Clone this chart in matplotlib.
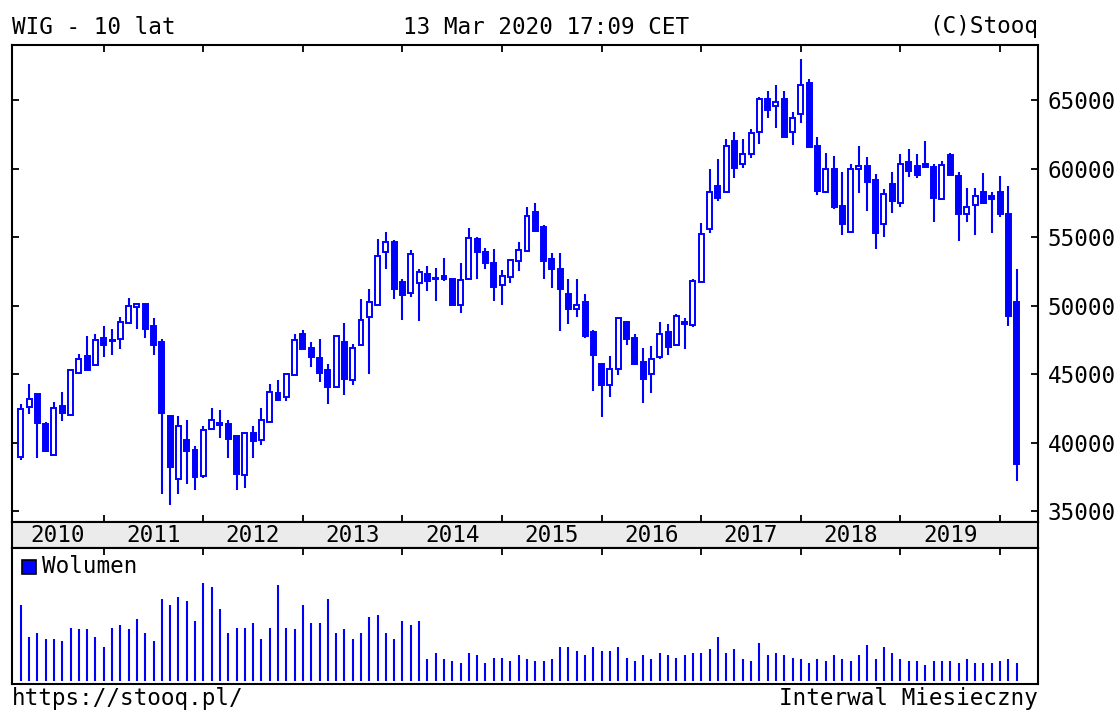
import matplotlib
matplotlib.use('Agg')
import matplotlib.pyplot as plt
import numpy as np
import pandas as pd
from matplotlib.patches import Rectangle

# ---------------- data ----------------
months = [p.strftime('%Y-%m') for p in pd.period_range('2010-03', '2020-03', freq='M')]

open_ = [38945, 42600, 43570, 41380, 39070, 42650, 41990, 45080, 46300, 45640,
         47660, 47400, 47590, 48730, 49900, 50100, 48520, 47350, 41920, 37360,
         40160, 39430, 37530, 41010, 41400, 41330, 40450, 37600, 40700, 40160,
         41500, 43620, 43330, 44910, 47900, 46910, 46200, 45320, 44060, 47350,
         44590, 47100, 49170, 50020, 53870, 54650, 51730, 50920, 51660, 52290,
         52000, 52140, 51900, 50020, 51920, 54820, 53920, 53070, 51480, 52090,
         53260, 53990, 56840, 55700, 53360, 52630, 50830, 49780, 50270, 48080,
         45710, 44230, 45350, 48800, 47660, 45840, 44980, 46250, 48030, 47150,
         48800, 48560, 51680, 55620, 58740, 58250, 62000, 60320, 61060, 62690,
         65050, 64580, 65050, 62690, 63980, 66260, 61660, 58300, 59930, 57280,
         55380, 59930, 60200, 59150, 55940, 58860, 57500, 60440, 60200, 60320,
         60130, 57790, 60950, 59470, 56700, 57330, 58250, 57990, 58250, 56650,
         50290]
high = [42790, 44300, 43570, 41500, 42960, 43700, 45280, 46490, 47780, 47950,
        48540, 48250, 49170, 50560, 50100, 50100, 49100, 47520, 41920, 41920,
        41620, 39720, 41180, 42520, 42350, 41620, 40450, 40700, 41180, 42520,
        44300, 44550, 44980, 47900, 48200, 47350, 47520, 45760, 47760, 48690,
        47220, 50440, 51170, 54820, 55380, 54770, 51970, 54040, 52700, 52870,
        52750, 53480, 51970, 53070, 55670, 54970, 54210, 54090, 52580, 53360,
        54650, 57160, 57460, 55870, 53800, 53800, 51900, 51900, 50830, 48200,
        45710, 46300, 49100, 48800, 47900, 46910, 47050, 48800, 48640, 49370,
        49100, 51900, 55990, 59930, 60660, 62130, 62690, 62130, 62860, 65190,
        65660, 66100, 65660, 64150, 67970, 66510, 62270, 61100, 60910, 59760,
        60320, 61660, 60810, 59590, 58470, 59760, 61050, 61390, 61050, 62030,
        60320, 60540, 61100, 59760, 58600, 58600, 59640, 58300, 59470, 58720,
        52630]
low = [38750, 42110, 38900, 39310, 39070, 41570, 41990, 45030, 45200, 45640,
       46250, 46370, 46790, 48730, 48250, 47660, 46370, 36270, 35410, 36270,
       37000, 36560, 37430, 40890, 40360, 38900, 36560, 36700, 38900, 39800,
       41500, 43040, 43040, 44910, 46860, 45520, 44420, 42840, 44060, 43450,
       44180, 47100, 45030, 50020, 52650, 50460, 48920, 50630, 48880, 51070,
       50340, 51800, 50020, 49420, 51920, 51920, 52650, 50340, 50020, 51660,
       52530, 53990, 55450, 51920, 51310, 48120, 48680, 49170, 47660, 43770,
       41870, 43330, 44910, 47100, 45640, 42890, 43620, 46130, 46370, 47150,
       46810, 48440, 51680, 55310, 57620, 58250, 59280, 60010, 60740, 61760,
       63660, 62980, 62320, 61710, 63340, 61590, 58050, 58230, 57010, 55140,
       55310, 58230, 56890, 54120, 55020, 56750, 57210, 59400, 59280, 60080,
       56080, 57690, 59520, 54730, 56080, 55140, 57400, 55310, 56430, 48540,
       37170]
close = [42475, 43200, 41430, 39360, 42520, 42160, 45280, 46130, 45320, 47470,
         47100, 47500, 48800, 49950, 50100, 48320, 47100, 42160, 38210, 41180,
         39360, 37480, 40890, 41620, 41300, 40280, 37730, 40700, 40110, 41620,
         43690, 43130, 44980, 47470, 46860, 46250, 45080, 44060, 47760, 44670,
         46910, 48930, 50220, 53600, 54650, 51190, 50750, 53750, 52460, 51800,
         51900, 51900, 50020, 51850, 54940, 53870, 53120, 51360, 52140, 53310,
         54040, 56550, 55450, 53260, 52650, 51170, 49780, 50020, 47760, 46370,
         44180, 45400, 49100, 47590, 45760, 44670, 46130, 47900, 46980, 49220,
         48650, 51800, 55210, 58250, 57820, 61640, 60010, 61060, 62570, 65050,
         64270, 64870, 62320, 63710, 66120, 61590, 58370, 59930, 57160, 55940,
         59930, 60180, 58980, 55310, 58130, 57640, 60320, 59830, 59520, 60080,
         57860, 60250, 59520, 56650, 57210, 57990, 57450, 57790, 56650, 49270,
         38460]
volume = [228, 132, 144, 126, 126, 120, 160, 155, 155, 132,
          102, 160, 167, 155, 185, 144, 120, 245, 228, 252,
          240, 180, 293, 282, 215, 144, 160, 160, 173, 126,
          160, 287, 160, 155, 228, 173, 173, 245, 144, 155,
          126, 144, 192, 197, 144, 126, 180, 167, 180, 65,
          83, 65, 60, 53, 83, 77, 53, 70, 70, 60,
          77, 65, 60, 60, 65, 102, 102, 90, 77, 102,
          90, 90, 102, 70, 60, 77, 65, 83, 77, 70,
          77, 83, 83, 96, 132, 83, 96, 65, 60, 114,
          77, 83, 77, 70, 65, 53, 65, 60, 77, 65,
          60, 77, 108, 65, 102, 83, 65, 60, 60, 47,
          60, 60, 60, 53, 65, 53, 53, 53, 60, 65,
          53]
y_ticks = [35000, 40000, 45000, 50000, 55000, 60000, 65000]

# ---------------- figure layout ----------------
W, H = 1118, 711
BLUE = '#0000ff'
FONT = 'DejaVu Sans Mono'
FS = 16.3
plt.rcParams['font.family'] = [FONT, 'DejaVu Sans']

fig = plt.figure(figsize=(W / 100, H / 100), dpi=100)
fig.patch.set_facecolor('white')


def fr(l, t, r, b):
    return [l / W, 1 - b / H, (r - l) / W, (b - t) / H]


L, R = 12, 1038
ax = fig.add_axes(fr(L, 45, R, 522))
band = fig.add_axes(fr(L, 522, R, 548))
axv = fig.add_axes(fr(L, 548, R, 684))

o = np.array(open_, float)
h = np.array(high, float)
l = np.array(low, float)
c = np.array(close, float)
x = np.arange(len(months))
up = c >= o

# candles
ax.vlines(x, l, h, color=BLUE, lw=1.5, zorder=2)
ax.bar(x, np.abs(c - o), bottom=np.minimum(o, c), width=0.6,
       color=np.where(up, 'white', BLUE), edgecolor=BLUE, linewidth=1.4, zorder=3)

xlim = (-1.05, 122.57)
jan = [i for i, m in enumerate(months) if m.endswith('-01')]

for a in (ax, band, axv):
    a.set_xlim(*xlim)
    for s in a.spines.values():
        s.set_linewidth(1.5)
        s.set_color('black')

ax.set_ylim(34197, 69015)
ax.set_yticks(y_ticks)
ax.set_yticklabels([str(v) for v in y_ticks], fontsize=FS, family=FONT)
ax.tick_params(axis='y', left=True, right=True, labelleft=False, labelright=True,
               direction='in', length=5, width=1.3, pad=7)
ax.set_xticks(jan)
ax.tick_params(axis='x', top=True, bottom=True, labelbottom=False,
               direction='in', length=5, width=1.3)

# year band
band.set_facecolor('#ebebeb')
band.set_ylim(0, 1)
band.set_yticks([])
band.set_xticks([])
edges = [xlim[0]] + jan
for k in range(len(jan)):
    band.text((edges[k] + edges[k + 1]) / 2, 0.47, months[jan[k] - 1][:4],
              ha='center', va='center', fontsize=FS, family=FONT)

# volume
axv.vlines(x, 0, volume, color=BLUE, lw=1.5)
axv.set_ylim(-9, 398)
axv.set_yticks([])
axv.set_xticks(jan)
axv.tick_params(axis='x', top=True, bottom=False, labelbottom=False,
                direction='in', length=5, width=1.3)
axv.add_patch(Rectangle((0.00975, 0.809), 0.01365, 0.103, transform=axv.transAxes,
                        facecolor=BLUE, edgecolor='black', lw=1.2))
axv.text(0.0295, 0.862, 'Wolumen', transform=axv.transAxes, ha='left', va='center',
         fontsize=FS, family=FONT)

# header / footer
fig.text(L / W, 1 - 27 / H, 'WIG - 10 lat', ha='left', va='center', fontsize=FS, family=FONT)
fig.text(546 / W, 1 - 27 / H, '13 Mar 2020 17:09 CET', ha='center', va='center', fontsize=FS, family=FONT)
fig.text(R / W, 1 - 27 / H, '(C)Stooq', ha='right', va='center', fontsize=FS, family=FONT)
fig.text(L / W, 1 - 699 / H, 'https://stooq.pl/', ha='left', va='center', fontsize=FS, family=FONT)
fig.text(R / W, 1 - 699 / H, 'Interwal Miesieczny', ha='right', va='center', fontsize=FS, family=FONT)

fig.savefig('out.png', dpi=100, facecolor='white')
